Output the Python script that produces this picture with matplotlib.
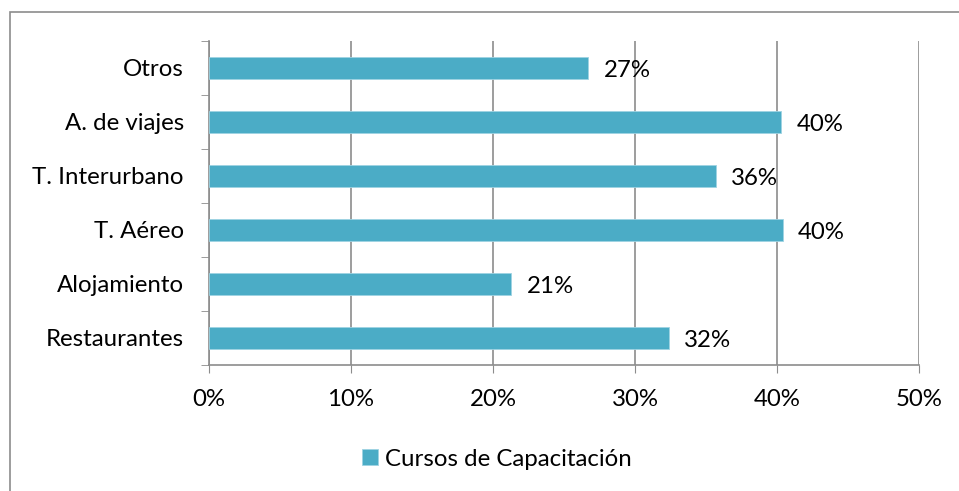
import matplotlib
matplotlib.use("Agg")
import matplotlib.pyplot as plt
from matplotlib.patches import Rectangle

categorias = ["Restaurantes", "Alojamiento", "T. Aéreo", "T. Interurbano", "A. de viajes", "Otros"]
valores = [32.4, 21.3, 40.4, 35.7, 40.3, 26.7]
etiquetas = ["32%", "21%", "40%", "36%", "40%", "27%"]
ticks_x = [0, 10, 20, 30, 40, 50]
serie = "Cursos de Capacitación"

plt.rcParams['font.family'] = ['Lato', 'DejaVu Sans']
fs = 17.3

W, H = 959, 491
fig = plt.figure(figsize=(W / 100, H / 100), dpi=100)
ax = fig.add_axes([209 / W, 1 - 365 / H, (919 - 209) / W, (365 - 41) / H])

gris = "#8c8c8c"
color = "#4bacc6"

y = range(len(categorias))
ax.barh(y, valores, height=0.4, color=color, edgecolor="#9fd3e2", linewidth=0.6,
        label=serie, zorder=3)
for i, v in enumerate(valores):
    ax.annotate(etiquetas[i], (v, i), xytext=(11, -2), textcoords="offset points",
                va="center", ha="left", fontsize=fs, color="black", zorder=4)

ax.set_xlim(0, 50)
ax.set_ylim(-0.5, len(categorias) - 0.5)
ax.set_xticks(ticks_x)
ax.set_xticklabels([f"{t}%" for t in ticks_x], fontsize=fs)
ax.set_yticks(y)
ax.set_yticklabels(categorias, fontsize=fs)
# marcas entre categorias en el eje y
ax.set_yticks([i - 0.5 for i in range(len(categorias) + 1)], minor=True)
ax.tick_params(axis="y", which="major", length=0, pad=18)
ax.tick_params(axis="y", which="minor", length=6, color=gris, direction="out")
ax.tick_params(axis="x", length=6, color=gris, direction="out", pad=11)

ax.grid(axis="x", color=gris, linewidth=1.2, zorder=0)
for s in ["top", "right"]:
    ax.spines[s].set_visible(False)
for s in ["left", "bottom"]:
    ax.spines[s].set_color(gris)
    ax.spines[s].set_linewidth(1.2)

leg = fig.legend(loc="center", bbox_to_anchor=(497 / W, 1 - 459 / H), frameon=False,
                 fontsize=fs, handlelength=0.65, handleheight=0.65, handletextpad=0.3)

# borde del grafico
fig.patches.append(Rectangle((10 / W, -0.1), 1.2, 1 - 12 / H + 0.1, transform=fig.transFigure,
                             fill=False, edgecolor=gris, linewidth=1.2))

fig.savefig("out.png", dpi=100)
